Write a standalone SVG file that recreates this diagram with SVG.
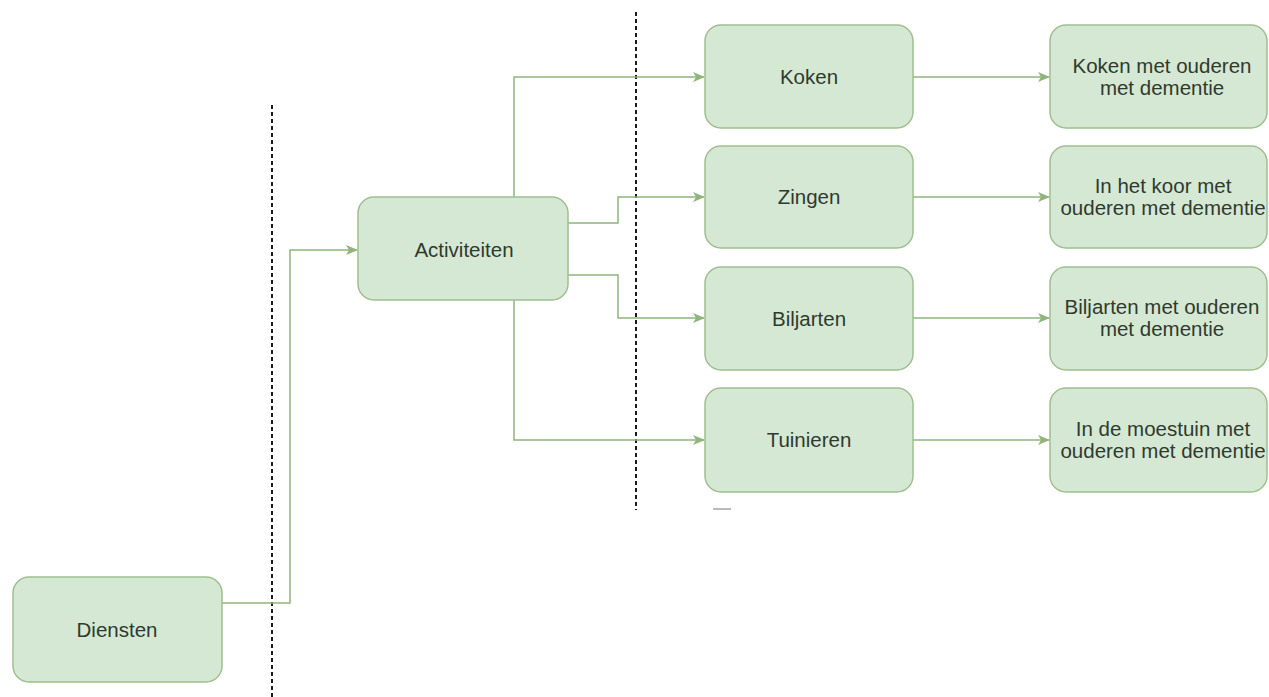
<svg xmlns="http://www.w3.org/2000/svg" width="1269" height="697" viewBox="0 0 1269 697">
<defs>
<style>
.box{fill:#d5e8d4;stroke:#9fbf90;stroke-width:1.5}
.lbl{font-family:"Liberation Sans",Arial,sans-serif;font-size:20.5px;fill:#2f3a2e;text-anchor:middle}
.con{fill:none;stroke:#8fb57c;stroke-width:1.5}
.sep{fill:none;stroke:#1a1a1a;stroke-width:2;stroke-dasharray:4 3}
</style>
<marker id="arr" viewBox="0 0 12 10" refX="11" refY="5" markerWidth="12" markerHeight="10" markerUnits="userSpaceOnUse" orient="auto">
<path d="M0,0 L12,5 L0,10 L3,5 Z" fill="#8fb57c"/>
</marker>
</defs>
<rect width="1269" height="697" fill="#fff"/>
<g id="separators">
<line class="sep" x1="272" y1="105" x2="272" y2="697"/>
<line class="sep" x1="636" y1="12" x2="636" y2="510"/>
</g>
<g id="connectors">
<path class="con" d="M222,603 H290 V250 H357" marker-end="url(#arr)"/>
<path class="con" d="M514,197 V77 H704" marker-end="url(#arr)"/>
<path class="con" d="M568,223 H618 V197 H704" marker-end="url(#arr)"/>
<path class="con" d="M568,275 H618 V318 H704" marker-end="url(#arr)"/>
<path class="con" d="M514,300 V440 H704" marker-end="url(#arr)"/>
<path class="con" d="M913,77 H1049" marker-end="url(#arr)"/>
<path class="con" d="M913,197 H1049" marker-end="url(#arr)"/>
<path class="con" d="M913,318 H1049" marker-end="url(#arr)"/>
<path class="con" d="M913,440 H1049" marker-end="url(#arr)"/>
</g>
<g id="diensten">
<rect class="box" x="13" y="577" width="209" height="105" rx="16"/>
<text class="lbl" x="117" y="637">Diensten</text>
</g>
<g id="activiteiten">
<rect class="box" x="358" y="197" width="210" height="103" rx="16"/>
<text class="lbl" x="464" y="257">Activiteiten</text>
</g>
<g id="koken">
<rect class="box" x="705" y="25" width="208" height="103" rx="16"/>
<text class="lbl" x="809" y="84">Koken</text>
</g>
<g id="zingen">
<rect class="box" x="705" y="146" width="208" height="102" rx="16"/>
<text class="lbl" x="809" y="204">Zingen</text>
</g>
<g id="biljarten">
<rect class="box" x="705" y="267" width="208" height="103" rx="16"/>
<text class="lbl" x="809" y="326">Biljarten</text>
</g>
<g id="tuinieren">
<rect class="box" x="705" y="388" width="208" height="104" rx="16"/>
<text class="lbl" x="809" y="447">Tuinieren</text>
</g>
<g id="koken-detail">
<rect class="box" x="1050" y="25" width="217" height="103" rx="16"/>
<text class="lbl" x="1162" y="73">Koken met ouderen</text>
<text class="lbl" x="1162" y="95">met dementie</text>
</g>
<g id="zingen-detail">
<rect class="box" x="1050" y="146" width="217" height="102" rx="16"/>
<text class="lbl" x="1163" y="193">In het koor met</text>
<text class="lbl" x="1163" y="215">ouderen met dementie</text>
</g>
<g id="biljarten-detail">
<rect class="box" x="1050" y="267" width="217" height="103" rx="16"/>
<text class="lbl" x="1162" y="314">Biljarten met ouderen</text>
<text class="lbl" x="1162" y="336">met dementie</text>
</g>
<g id="tuinieren-detail">
<rect class="box" x="1050" y="388" width="217" height="104" rx="16"/>
<text class="lbl" x="1163" y="436">In de moestuin met</text>
<text class="lbl" x="1163" y="458">ouderen met dementie</text>
</g>
<line x1="713" y1="509" x2="731" y2="509" stroke="#bbb" stroke-width="2"/>
</svg>
